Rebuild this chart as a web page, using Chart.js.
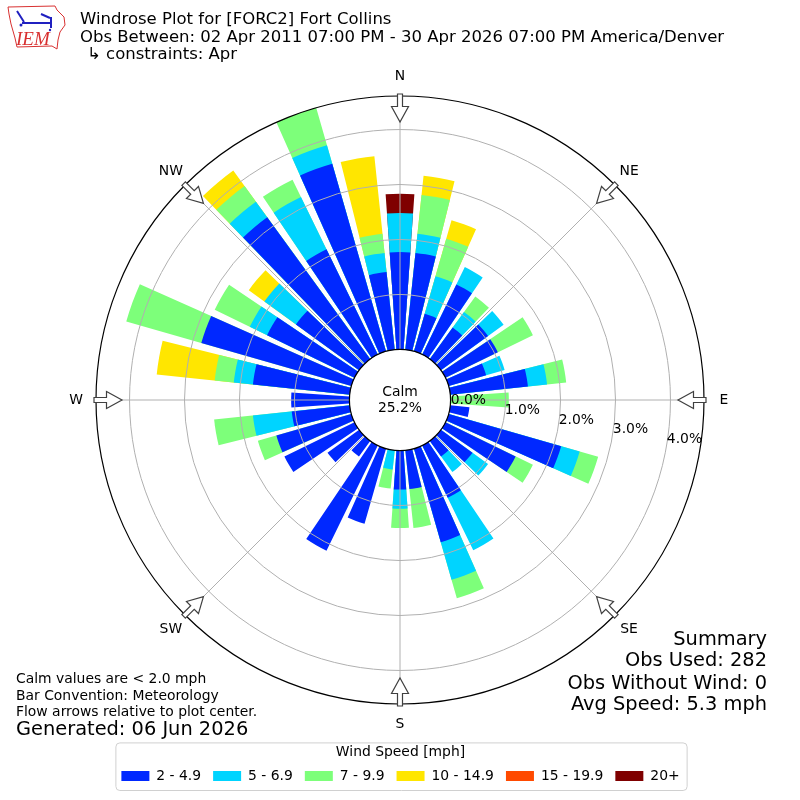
<!DOCTYPE html>
<html>
<head>
<meta charset="utf-8">
<script src="https://cdn.jsdelivr.net/npm/chart.js@4.4.1/dist/chart.umd.min.js"></script>
<style>
  html, body { margin: 0; padding: 0; background: #fff; }
  canvas { display: block; }
</style>
</head>
<body>
<canvas id="rose" width="800" height="800"></canvas>
<script>
// bar centre direction, degrees from north
const directions = [0, 10, 20, 30, 40, 50, 60, 70, 80, 90, 100, 110,
                    120, 130, 140, 150, 160, 170, 180, 190, 200, 210, 220, 230,
                    240, 250, 260, 270, 280, 290, 300, 310, 320, 330, 340, 350];
const speedBins = ['2 - 4.9', '5 - 6.9', '7 - 9.9', '10 - 14.9', '15 - 19.9', '20+'];

// percent of all obs, per direction, one list per speed bin
const pct2to5 = [1.77, 1.77, 0.71, 1.42, 0.71, 1.06, 1.06, 0.71, 1.42, 0, 0.35, 2.13,
                 1.42, 0.71, 0.35, 1.06, 1.77, 0.71, 0.71, 0, 1.42, 2.13, 0.35, 0.71,
                 1.42, 1.42, 1.06, 1.06, 1.77, 2.84, 1.77, 1.42, 3.19, 2.13, 3.55, 1.42];
const pct5to7 = [0.71, 0.35, 0.71, 0.35, 0.35, 0.35, 0, 0.35, 0.35, 0, 0, 0.35,
                 0, 0.35, 0.35, 1.06, 0.71, 0, 0.35, 0.35, 0, 0, 0, 0,
                 0, 0, 0.71, 0, 0.35, 0, 0.35, 0.71, 0.35, 1.06, 0.35, 0.35];
const pct7to10 = [0, 0.71, 0.71, 0, 0.35, 0, 0.71, 0, 0.35, 1.06, 0, 0.35,
                  0.35, 0, 0, 0, 0.35, 0.71, 0.35, 0.35, 0, 0, 0, 0,
                  0, 0.35, 0.71, 0, 0.35, 1.42, 0.71, 0, 0.35, 0.35, 0.71, 0.35];
const pct10to15 = [0, 0.35, 0.35, 0, 0, 0, 0, 0, 0, 0, 0, 0,
                   0, 0, 0, 0, 0, 0, 0, 0, 0, 0, 0, 0,
                   0, 0, 0, 0, 1.06, 0, 0, 0.35, 0.35, 0, 0, 1.42];
const pct15to20 = [0, 0, 0, 0, 0, 0, 0, 0, 0, 0, 0, 0,
                   0, 0, 0, 0, 0, 0, 0, 0, 0, 0, 0, 0,
                   0, 0, 0, 0, 0, 0, 0, 0, 0, 0, 0, 0];
const pct20up = [0.35, 0, 0, 0, 0, 0, 0, 0, 0, 0, 0, 0,
                 0, 0, 0, 0, 0, 0, 0, 0, 0, 0, 0, 0,
                 0, 0, 0, 0, 0, 0, 0, 0, 0, 0, 0, 0];

const radialTicks = [0, 1, 2, 3, 4];
const calmPct = '25.2%';
const rMin = -0.92;
const rMax = 4.61;

const binColors = ['#0028ff', '#00d4ff', '#7dff7a', '#ffe600', '#ff4a00', '#7f0000'];
const FONT = "'DejaVu Sans', sans-serif";
Chart.defaults.font.family = FONT;

// polarArea has no stacking: feed running totals, first bin ends up on top.
// every bar is followed by a zero "gap" slot so the bars are separated.
// empty bins are sent to 0 so they don't bleed out along the bar edges.
const series = [pct2to5, pct5to7, pct7to10, pct10to15, pct15to20, pct20up];
const labels = [];
directions.forEach(d => { labels.push(d + '°', ''); });
const running = directions.map(() => 0);
const datasets = series.map((vals, k) => {
  const data = [];
  vals.forEach((v, i) => {
    running[i] += v;
    data.push(v > 0 ? running[i] : 0, 0);
  });
  return {
    label: speedBins[k],
    data: data,
    backgroundColor: binColors[k],
    borderWidth: 0,
    angle: c => (c.dataIndex % 2 ? 2 : 8)
  };
});

function text(ctx, str, x, y, size, align, color) {
  ctx.font = size + 'px ' + FONT;
  ctx.textAlign = align || 'left';
  ctx.textBaseline = 'middle';
  ctx.fillStyle = color || '#000';
  ctx.fillText(str, x, y);
}

function drawLogo(ctx) {
  ctx.save();
  ctx.strokeStyle = '#d83030';
  ctx.lineWidth = 1;
  ctx.beginPath();
  [[8, 7], [55, 6], [57, 10], [64, 17], [65, 25], [60, 32], [58, 40], [57, 49],
   [52, 46], [17, 47], [15, 38], [11, 24], [9, 14]].forEach((p, i) => {
    if (i) ctx.lineTo(p[0], p[1]); else ctx.moveTo(p[0], p[1]);
  });
  ctx.closePath();
  ctx.stroke();
  ctx.strokeStyle = '#2020c0';
  ctx.fillStyle = '#2020c0';
  ctx.lineWidth = 2;
  ctx.beginPath();
  ctx.moveTo(22, 23); ctx.lineTo(52, 23);
  ctx.moveTo(17, 11); ctx.lineTo(24, 22);
  ctx.moveTo(41, 14); ctx.lineTo(50, 18);
  ctx.moveTo(51, 17); ctx.lineTo(51, 28);
  ctx.stroke();
  ctx.beginPath(); ctx.arc(21, 25, 1.5, 0, Math.PI * 2); ctx.fill();
  ctx.beginPath(); ctx.arc(50, 30, 1.2, 0, Math.PI * 2); ctx.fill();
  ctx.font = "italic 19px 'Liberation Serif', serif";
  ctx.fillStyle = '#d83030';
  ctx.textAlign = 'left';
  ctx.textBaseline = 'alphabetic';
  ctx.fillText('IEM', 16, 45);
  ctx.restore();
}

const roseDecor = {
  id: 'roseDecor',
  afterDatasetsDraw(chart) {
    const s = chart.scales.r;
    const ctx = chart.ctx;
    ctx.save();
    ctx.strokeStyle = '#b0b0b0';
    ctx.lineWidth = 1;
    for (let a = 0; a < 360; a += 45) {
      const t = (a - 90) * Math.PI / 180;
      ctx.beginPath();
      ctx.moveTo(s.xCenter, s.yCenter);
      ctx.lineTo(s.xCenter + s.drawingArea * Math.cos(t), s.yCenter + s.drawingArea * Math.sin(t));
      ctx.stroke();
    }
    ctx.restore();
  },
  afterDraw(chart) {
    const s = chart.scales.r;
    const ctx = chart.ctx;
    const xc = s.xCenter, yc = s.yCenter;
    ctx.save();

    // calm circle
    const r0 = s.getDistanceFromCenterForValue(0);
    ctx.beginPath();
    ctx.arc(xc, yc, r0, 0, Math.PI * 2);
    ctx.fillStyle = '#fff';
    ctx.fill();
    ctx.strokeStyle = '#000';
    ctx.lineWidth = 1.2;
    ctx.stroke();
    text(ctx, 'Calm', xc, yc - 8, 13.9, 'center');
    text(ctx, calmPct, xc, yc + 8, 13.9, 'center');

    // flow arrows + compass labels
    const names = ['N', 'NE', 'E', 'SE', 'S', 'SW', 'W', 'NW'];
    const shape = [[0, -2.5], [12.5, -2.5], [12.5, -8.5], [28, 0], [12.5, 8.5], [12.5, 2.5], [0, 2.5]];
    names.forEach((nm, i) => {
      const t = (i * 45 - 90) * Math.PI / 180;
      const ux = Math.cos(t), uy = Math.sin(t);
      const rt = s.drawingArea + 2;
      ctx.beginPath();
      shape.forEach((p, j) => {
        const rr = rt - p[0];
        const x = xc + rr * ux - p[1] * uy;
        const y = yc + rr * uy + p[1] * ux;
        if (j) ctx.lineTo(x, y); else ctx.moveTo(x, y);
      });
      ctx.closePath();
      ctx.fillStyle = '#fff';
      ctx.fill();
      ctx.strokeStyle = '#404040';
      ctx.lineWidth = 1.2;
      ctx.stroke();
      const rl = s.drawingArea + 20;
      text(ctx, nm, xc + rl * ux, yc + rl * uy, 13.9, 'center');
    });

    // radial labels
    radialTicks.forEach(v => {
      const d = s.getDistanceFromCenterForValue(v);
      text(ctx, v.toFixed(1) + '%', xc + 50.7 + (d - r0) * 0.983, yc + 0.8 + (d - r0) * 0.176, 13.9, 'left');
    });

    // header
    drawLogo(ctx);
    text(ctx, 'Windrose Plot for [FORC2] Fort Collins', 80, 20, 16.5);
    text(ctx, 'Obs Between: 02 Apr 2011 07:00 PM - 30 Apr 2026 07:00 PM America/Denver', 80, 38, 16.5);
    text(ctx, '\u21b3 constraints: Apr', 87, 55, 16.5);

    // footer notes
    text(ctx, 'Calm values are < 2.0 mph', 16, 679, 13.9);
    text(ctx, 'Bar Convention: Meteorology', 16, 696, 13.9);
    text(ctx, 'Flow arrows relative to plot center.', 16, 712, 13.9);
    text(ctx, 'Generated: 06 Jun 2026', 16, 730, 19.4);
    text(ctx, 'Summary', 767, 640, 19.4, 'right');
    text(ctx, 'Obs Used: 282', 767, 661, 19.4, 'right');
    text(ctx, 'Obs Without Wind: 0', 767, 684, 19.4, 'right');
    text(ctx, 'Avg Speed: 5.3 mph', 767, 705, 19.4, 'right');

    // legend frame
    const lg = chart.legend;
    const hb = lg.legendHitBoxes;
    if (hb && hb.length) {
      const last = hb[hb.length - 1];
      const x0 = hb[0].left - 6, x1 = last.left + last.width + 7;
      const y0 = lg.top + 1, y1 = lg.bottom - 3;
      ctx.beginPath();
      ctx.roundRect(x0 + 0.5, y0 + 0.5, x1 - x0, y1 - y0, 4);
      ctx.strokeStyle = '#d0d0d0';
      ctx.lineWidth = 1;
      ctx.stroke();
    }
    ctx.restore();
  }
};

new Chart(document.getElementById('rose'), {
  type: 'polarArea',
  data: { labels: labels, datasets: datasets },
  options: {
    responsive: false,
    animation: false,
    events: [],
    layout: { padding: { top: 59, left: 96, right: 95, bottom: 7 } },
    scales: {
      r: {
        min: rMin,
        max: rMax,
        startAngle: -4,
        afterBuildTicks: sc => {
          sc.ticks = [rMin].concat(radialTicks, [rMax]).map(v => ({ value: v }));
        },
        ticks: { display: false },
        angleLines: { display: false },
        pointLabels: { display: false },
        grid: {
          z: 1,
          circular: true,
          color: c => {
            const v = c.tick ? c.tick.value : 0;
            if (v === rMax) return '#000';
            return v <= 0 ? 'rgba(0,0,0,0)' : '#b0b0b0';
          },
          lineWidth: c => (c.tick && c.tick.value === rMax ? 1.2 : 1)
        }
      }
    },
    plugins: {
      tooltip: { enabled: false },
      legend: {
        position: 'bottom',
        labels: {
          boxWidth: 28,
          boxHeight: 10,
          padding: 12,
          color: '#000',
          font: { size: 13.9 },
          generateLabels: chart => chart.data.datasets.map((ds, i) => ({
            text: ds.label,
            fillStyle: ds.backgroundColor,
            strokeStyle: ds.backgroundColor,
            lineWidth: 0,
            hidden: false,
            datasetIndex: i
          }))
        },
        title: {
          display: true,
          text: 'Wind Speed [mph]',
          color: '#000',
          font: { size: 13.9 },
          padding: { top: 4, bottom: -5 }
        }
      }
    }
  },
  plugins: [roseDecor]
});
</script>
</body>
</html>
